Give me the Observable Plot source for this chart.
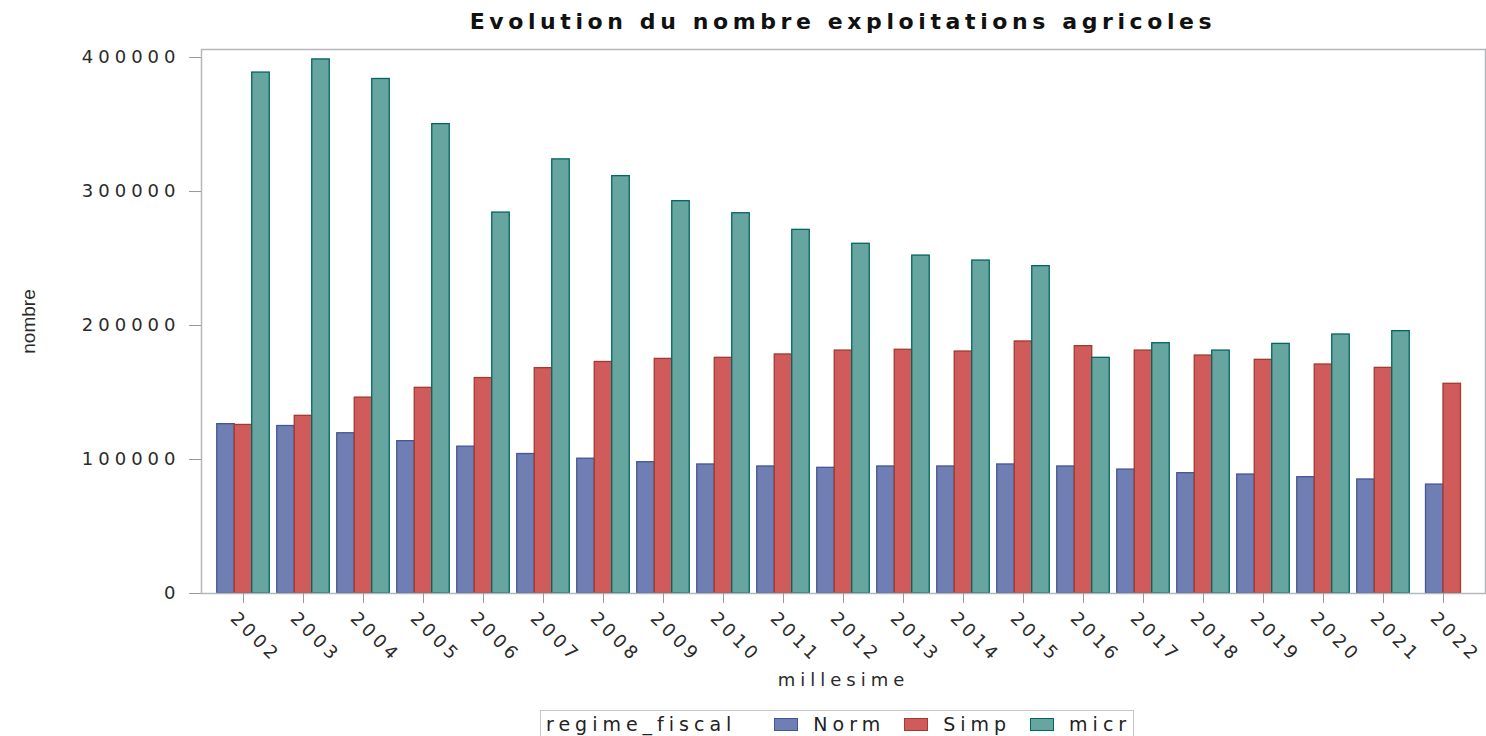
<!DOCTYPE html>
<html>
<head>
<meta charset="utf-8">
<script src="https://cdn.jsdelivr.net/npm/d3@7"></script>
<script src="https://cdn.jsdelivr.net/npm/@observablehq/plot@0.6"></script>
<style>
  html, body { margin: 0; padding: 0; background: #fff; overflow: hidden; }
  #wrap { width: 1486px; height: 736px; position: relative; }
  #title { height: 40px; box-sizing: border-box; padding-left: 201px; padding-right: 1px; padding-top: 9px;
    text-align: center; font-family: "DejaVu Sans", sans-serif; font-weight: bold; font-size: 22px;
    letter-spacing: 4.6px; color: #111; line-height: 26px; }
  #legend { position: absolute; left: 540px; top: 710px; height: 40px; box-sizing: border-box;
    border: 1px solid #c8c8c8; display: flex; align-items: flex-start; padding: 2px 2px 0 5px;
    font-family: "DejaVu Sans", sans-serif; font-size: 19px; letter-spacing: 5px; color: #222; line-height: 22px; }
  #legend .ttl { margin-right: 38px; }
  #legend .item { display: flex; align-items: center; margin-right: 19px; }
  #legend .sw { width: 24px; height: 13px; margin-right: 15px; box-sizing: border-box; }
</style>
</head>
<body>
<div id="wrap">
  <div id="title">Evolution du nombre exploitations agricoles</div>
  <div id="chart"></div>
  <div id="legend"></div>
</div>
<script>
// ---- data ----
const years = ["2002","2003","2004","2005","2006","2007","2008","2009","2010","2011","2012",
               "2013","2014","2015","2016","2017","2018","2019","2020","2021","2022"];
const regimes = ["Norm", "Simp", "micr"];
const normValues = [126400,125000,119600,113700,109600,104100,100600,98000,96300,94800,93800,
                    94800,94800,96300,94800,92500,89800,88800,86800,85100,81300];
const simpValues = [125800,132600,146200,153500,160800,168200,172800,175100,175900,178400,181300,
                    181900,180600,188100,184600,181300,177600,174400,170900,168400,156500];
const micrValues = [388800,398600,384000,350300,284300,324000,311500,292800,283800,271400,261000,
                    252200,248500,244300,175900,186800,181300,186300,193300,195800,null];
const yTicks = [0, 100000, 200000, 300000, 400000];
const fillColors = ["#6F7EB3", "#D05B5B", "#66A5A0"];
const strokeColors = ["#445694", "#A23A2E", "#01665E"];

// ---- table ----
const seriesValues = [normValues, simpValues, micrValues];
const rows = [];
years.forEach((year, i) => {
  const present = regimes.map((r, k) => ({r, k, v: seriesValues[k][i]})).filter(d => d.v != null);
  present.forEach((d, slot) => rows.push({year, regime: d.r, value: d.v, slot, count: present.length}));
});

const width = 1486, height = 660;
const marginLeft = 201, marginRight = 1, marginTop = 9, marginBottom = 107;
const xOpts = {type: "band", domain: years, paddingInner: 0.125, paddingOuter: 0.2625, round: false};
const bw = Plot.scale({x: {...xOpts, range: [marginLeft, width - marginRight]}}).bandwidth;
const slotW = bw / 3;

// one bar mark per (slot, count) combination so that incomplete groups are centred
const groups = d3.groups(rows, d => d.slot + "-" + d.count);
const barMarks = groups.map(([key, data]) => {
  const {slot, count} = data[0];
  const left = (3 - count) / 2 * slotW + slot * slotW;
  return Plot.barY(data, {
    x: "year", y: "value", fill: "regime", stroke: "regime", strokeWidth: 1.3,
    insetLeft: left, insetRight: bw - left - slotW
  });
});

const chart = Plot.plot({
  width, height, marginLeft, marginRight, marginTop, marginBottom,
  style: {fontFamily: "DejaVu Sans, sans-serif", fontSize: "18px", color: "#2a2a2a", background: "#fff", letterSpacing: "5px"},
  x: {...xOpts, label: null},
  y: {domain: [0, 406000], label: null},
  color: {domain: regimes, range: fillColors},
  marks: [
    ...barMarks,
    Plot.frame({stroke: "#b4b8bc", strokeWidth: 1.5}),
    Plot.axisY({ticks: yTicks, tickSize: 12, tickPadding: 9, tickFormat: d3.format("d"), stroke: "#999",
                label: "nombre", labelAnchor: "center", labelOffset: 180}),
    Plot.axisX({tickSize: 10, tickFormat: () => "", stroke: "#999", label: "millesime", labelAnchor: "center", labelOffset: 92}),
    Plot.axisX({tickSize: 0, tickRotate: 45, tickPadding: 22, dx: -10, tickFormat: d => d, label: null})
  ]
});
// strokes darker per regime
chart.querySelectorAll("g[aria-label='bar'] rect").forEach(r => {
  const i = fillColors.indexOf(r.getAttribute("fill"));
  if (i >= 0) r.setAttribute("stroke", strokeColors[i]);
});
// rotated year labels slightly tighter
chart.querySelectorAll("g[aria-label='x-axis tick label']").forEach(g => { g.style.letterSpacing = "4px"; });
// y axis label: plain text, no arrow, narrow font
chart.querySelectorAll("g[aria-label='y-axis label'] text").forEach(t => {
  t.textContent = "nombre";
  t.setAttribute("font-family", "Liberation Sans, sans-serif");
  t.style.letterSpacing = "0px";
  t.setAttribute("font-size", "19");
});
document.getElementById("chart").appendChild(chart);

// ---- legend ----
const legend = document.getElementById("legend");
const t = document.createElement("span"); t.className = "ttl"; t.textContent = "regime_fiscal"; legend.appendChild(t);
regimes.forEach((r, k) => {
  const it = document.createElement("span"); it.className = "item";
  if (k === regimes.length - 1) it.style.marginRight = "0px";
  const sw = document.createElement("span"); sw.className = "sw";
  sw.style.background = fillColors[k]; sw.style.border = "1px solid " + strokeColors[k];
  const lb = document.createElement("span"); lb.textContent = r;
  it.appendChild(sw); it.appendChild(lb); legend.appendChild(it);
});
</script>
</body>
</html>
